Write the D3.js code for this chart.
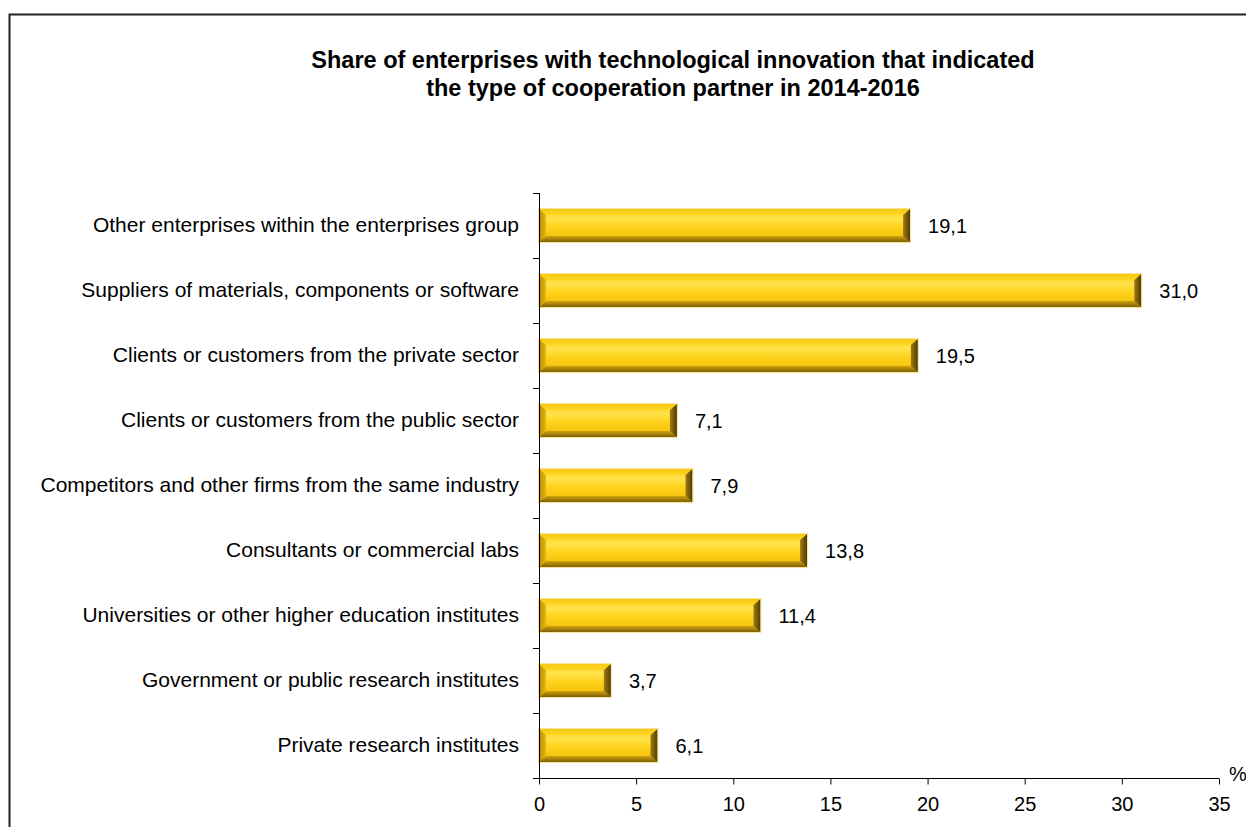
<!DOCTYPE html>
<html>
<head>
<meta charset="utf-8">
<script src="https://cdn.jsdelivr.net/npm/d3@7"></script>
<style>
  html, body { margin: 0; padding: 0; background: #fff; }
  svg { display: block; font-family: "Liberation Sans", Arial, sans-serif; }
</style>
</head>
<body>
<svg id="chart" width="1246" height="827"></svg>
<script>
const titleLines = [
  "Share of enterprises with technological innovation that indicated",
  "the type of cooperation partner in 2014-2016"
];
const categories = [
  "Other enterprises within the enterprises group",
  "Suppliers of materials, components or software",
  "Clients or customers from the private sector",
  "Clients or customers from the public sector",
  "Competitors and other firms from the same industry",
  "Consultants or commercial labs",
  "Universities or other higher education institutes",
  "Government or public research institutes",
  "Private research institutes"
];
const values = [19.1, 31.0, 19.5, 7.1, 7.9, 13.8, 11.4, 3.7, 6.1];
const xTicks = [0, 5, 10, 15, 20, 25, 30, 35];
const unitLabel = "%";

(function () {
const svg = d3.select("#chart");
const W = 1246, H = 827;
const pLeft = 539, pRight = 1219, pTop = 193, pBottom = 778;

svg.append("rect").attr("width", W).attr("height", H).attr("fill", "#fff");
// outer frame
svg.append("path")
  .attr("d", `M9.5,${H + 5} V14.5 H${W + 5}`)
  .attr("fill", "none").attr("stroke", "#222").attr("stroke-width", 2);

// title
const title = svg.append("text")
  .attr("x", 673).attr("y", 68)
  .attr("text-anchor", "middle")
  .attr("font-size", 23.5).attr("font-weight", "bold").attr("fill", "#000");
titleLines.forEach((t, i) => {
  title.append("tspan").attr("x", 673).attr("dy", i === 0 ? 0 : 28).text(t);
});

const x = d3.scaleLinear().domain([0, 35]).range([pLeft, pRight]);
const y = d3.scaleBand().domain(categories).range([pTop, pBottom])
  .paddingInner(0.49).paddingOuter(0.245);

const defs = svg.append("defs");
const gFace = defs.append("linearGradient").attr("id", "face")
  .attr("x1", 0).attr("y1", 0).attr("x2", 0).attr("y2", 1);
gFace.append("stop").attr("offset", "0").attr("stop-color", "#FFD21E");
gFace.append("stop").attr("offset", "0.3").attr("stop-color", "#FFE24A");
gFace.append("stop").attr("offset", "0.55").attr("stop-color", "#FFD21A");
gFace.append("stop").attr("offset", "1").attr("stop-color", "#F0BC08");

const gTop = defs.append("linearGradient").attr("id", "topb")
  .attr("x1", 0).attr("y1", 0).attr("x2", 0).attr("y2", 1);
gTop.append("stop").attr("offset", "0").attr("stop-color", "#F5C812");
gTop.append("stop").attr("offset", "1").attr("stop-color", "#FFD624");

const gBot = defs.append("linearGradient").attr("id", "botb")
  .attr("x1", 0).attr("y1", 0).attr("x2", 0).attr("y2", 1);
gBot.append("stop").attr("offset", "0").attr("stop-color", "#D0A20C");
gBot.append("stop").attr("offset", "1").attr("stop-color", "#7E5F06");

const gRight = defs.append("linearGradient").attr("id", "rightb")
  .attr("x1", 0).attr("y1", 0).attr("x2", 1).attr("y2", 0);
gRight.append("stop").attr("offset", "0").attr("stop-color", "#A07C10");
gRight.append("stop").attr("offset", "1").attr("stop-color", "#4E3B05");

const gLeft = defs.append("linearGradient").attr("id", "leftb")
  .attr("x1", 0).attr("y1", 0).attr("x2", 1).attr("y2", 0);
gLeft.append("stop").attr("offset", "0").attr("stop-color", "#B38B0A");
gLeft.append("stop").attr("offset", "1").attr("stop-color", "#E8B812");

const bars = svg.append("g");
const poly = pts => "M" + pts.map(p => p.join(",")).join("L") + "Z";
categories.forEach((c, i) => {
  const v = values[i];
  const x0 = x(0), x1 = x(v);
  const y0 = y(c), y1 = y0 + y.bandwidth();
  const bx = Math.min(7, (x1 - x0) / 3), by = 6;
  const g = bars.append("g");
  g.append("rect").attr("x", x0).attr("y", y0).attr("width", x1 - x0).attr("height", y1 - y0)
    .attr("fill", "url(#face)");
  g.append("path").attr("fill", "url(#topb)")
    .attr("d", poly([[x0, y0], [x1, y0], [x1 - bx, y0 + by], [x0 + bx, y0 + by]]));
  g.append("path").attr("fill", "url(#botb)")
    .attr("d", poly([[x0, y1], [x1, y1], [x1 - bx, y1 - by], [x0 + bx, y1 - by]]));
  g.append("path").attr("fill", "url(#leftb)")
    .attr("d", poly([[x0, y0], [x0 + bx, y0 + by], [x0 + bx, y1 - by], [x0, y1]]));
  g.append("path").attr("fill", "url(#rightb)")
    .attr("d", poly([[x1, y0], [x1 - bx, y0 + by], [x1 - bx, y1 - by], [x1, y1]]));
  g.append("rect").attr("x", x0 - 0.5).attr("y", y0 - 0.5)
    .attr("width", x1 - x0 + 1).attr("height", y1 - y0 + 1)
    .attr("fill", "none").attr("stroke", "#F6E49C").attr("stroke-width", 1);
  // value label
  svg.append("text")
    .attr("x", x1 + 18).attr("y", y0 + y.bandwidth() / 2)
    .attr("dy", "0.36em").attr("font-size", 20).attr("fill", "#000")
    .text(d3.format(".1f")(v).replace(".", ","));
});

// y axis (labels)
const yAxis = svg.append("g").attr("transform", `translate(${pLeft},0)`)
  .call(d3.axisLeft(y).tickSize(0).tickPadding(20));
yAxis.select(".domain").remove();
yAxis.selectAll("text").attr("font-size", 21).attr("fill", "#000")
  .attr("font-family", "Liberation Sans, Arial, sans-serif");

// y axis line and boundary ticks
svg.append("line").attr("x1", pLeft + 0.5).attr("x2", pLeft + 0.5)
  .attr("y1", pTop).attr("y2", pBottom).attr("stroke", "#000");
d3.range(categories.length + 1).forEach(k => {
  const yy = Math.round(pTop + k * y.step()) + 0.5;
  svg.append("line").attr("x1", pLeft - 6).attr("x2", pLeft + 0.5)
    .attr("y1", yy).attr("y2", yy).attr("stroke", "#000");
});

// x axis
const xAxis = svg.append("g").attr("transform", `translate(0,${pBottom + 0.5})`)
  .call(d3.axisBottom(x).tickValues(xTicks).tickSize(6).tickPadding(12).tickFormat(d3.format("d")));
xAxis.select(".domain").attr("stroke", "#000").attr("d", `M${pLeft},0H${pRight}`);
xAxis.selectAll("line").attr("stroke", "#000");
xAxis.selectAll("text").attr("font-size", 20).attr("fill", "#000")
  .attr("font-family", "Liberation Sans, Arial, sans-serif");

svg.append("text").attr("x", 1229).attr("y", 781).attr("font-size", 20).attr("fill", "#000")
  .text(unitLabel);
})();
</script>
</body>
</html>
